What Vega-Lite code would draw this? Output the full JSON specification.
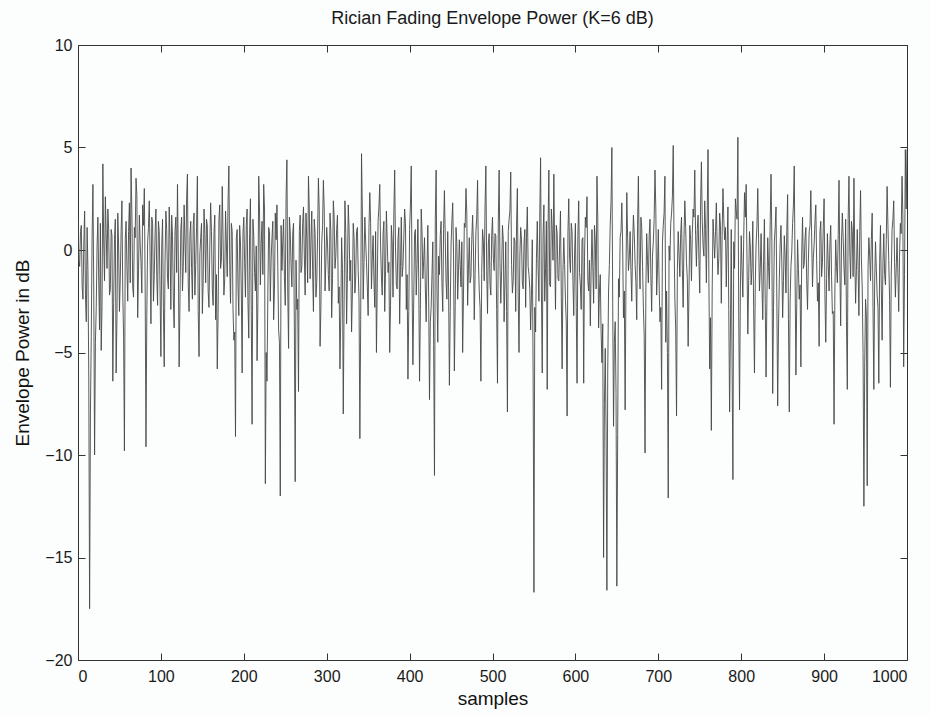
{
"$schema": "https://vega.github.io/schema/vega-lite/v6.json",
"width": 829, "height": 615,
"autosize": {"type": "none"},
"padding": {"left": 78, "top": 45, "right": 24, "bottom": 55},
"background": "#fcfdfd",
"title": {"text": "Rician Fading Envelope Power (K=6 dB)", "font": "Liberation Sans", "fontSize": 18, "fontWeight": "normal", "color": "#1a1a1a", "offset": 9},
"config": {
  "view": {"stroke": "#333333", "strokeWidth": 1},
  "axis": {"grid": false, "domain": false, "tickColor": "#333333", "tickSize": -7, "labelFont": "Liberation Sans", "labelFontSize": 16, "labelColor": "#1a1a1a", "titleFont": "Liberation Sans", "titleFontSize": 19, "titleFontWeight": "normal", "titleColor": "#111111"}
},
"data": {"values": [
{"s":0,"p":1.5},{"s":2,"p":-0.8},{"s":4,"p":1.2},{"s":6,"p":-2.4},{"s":8,"p":1.9},{"s":10,"p":-3.5},{"s":12,"p":-1.0},{"s":14,"p":-17.5},{"s":16,"p":-4.2},{"s":18,"p":3.2},
{"s":20,"p":-10.0},{"s":22,"p":-2.8},{"s":24,"p":1.6},{"s":26,"p":-3.9},{"s":28,"p":-4.9},{"s":30,"p":4.2},{"s":32,"p":-1.5},{"s":34,"p":0.8},{"s":36,"p":2.0},{"s":38,"p":-2.2},
{"s":40,"p":1.0},{"s":42,"p":-6.4},{"s":44,"p":0.5},{"s":46,"p":-6.0},{"s":48,"p":1.8},{"s":50,"p":-3.0},{"s":52,"p":0.9},{"s":54,"p":-2.1},{"s":56,"p":-9.8},{"s":58,"p":1.4},
{"s":60,"p":-2.5},{"s":62,"p":2.3},{"s":64,"p":4.0},{"s":66,"p":-1.8},{"s":68,"p":1.1},{"s":70,"p":3.5},{"s":72,"p":-3.3},{"s":74,"p":1.7},{"s":76,"p":-0.6},{"s":78,"p":2.2},
{"s":80,"p":3.0},{"s":82,"p":-9.6},{"s":84,"p":0.4},{"s":86,"p":2.4},{"s":88,"p":-3.6},{"s":90,"p":1.3},{"s":92,"p":-1.2},{"s":94,"p":2.0},{"s":96,"p":-2.7},{"s":98,"p":0.9},
{"s":100,"p":-5.2},{"s":102,"p":1.5},{"s":104,"p":-5.7},{"s":106,"p":1.9},{"s":108,"p":-1.4},{"s":110,"p":2.1},{"s":112,"p":-2.9},{"s":114,"p":0.7},{"s":116,"p":-3.8},{"s":118,"p":1.6},
{"s":120,"p":3.2},{"s":122,"p":-5.7},{"s":124,"p":1.0},{"s":126,"p":-2.0},{"s":128,"p":2.2},{"s":130,"p":-1.1},{"s":132,"p":3.7},{"s":134,"p":-3.0},{"s":136,"p":1.4},{"s":138,"p":-2.4},
{"s":140,"p":1.8},{"s":142,"p":-0.7},{"s":144,"p":3.6},{"s":146,"p":-5.2},{"s":148,"p":0.6},{"s":150,"p":-3.1},{"s":152,"p":2.0},{"s":154,"p":-1.6},{"s":156,"p":1.2},{"s":158,"p":-2.8},
{"s":160,"p":2.3},{"s":162,"p":-1.9},{"s":164,"p":0.8},{"s":166,"p":-3.4},{"s":168,"p":-5.8},{"s":170,"p":1.5},{"s":172,"p":-0.9},{"s":174,"p":3.1},{"s":176,"p":-2.2},{"s":178,"p":1.9},
{"s":180,"p":-1.3},{"s":182,"p":4.1},{"s":184,"p":-2.6},{"s":186,"p":0.9},{"s":188,"p":-4.4},{"s":190,"p":-9.1},{"s":192,"p":1.0},{"s":194,"p":-3.2},{"s":196,"p":0.4},{"s":198,"p":-6.0},
{"s":200,"p":1.6},{"s":202,"p":-2.3},{"s":204,"p":2.0},{"s":206,"p":-4.3},{"s":208,"p":2.5},{"s":210,"p":-8.5},{"s":212,"p":0.7},{"s":214,"p":-2.0},{"s":216,"p":-5.4},{"s":218,"p":3.6},
{"s":220,"p":-1.7},{"s":222,"p":1.4},{"s":224,"p":3.2},{"s":226,"p":-11.4},{"s":228,"p":-6.4},{"s":230,"p":1.1},{"s":232,"p":-2.5},{"s":234,"p":0.6},{"s":236,"p":-3.4},{"s":238,"p":1.8},
{"s":240,"p":2.2},{"s":242,"p":-3.9},{"s":244,"p":-12.0},{"s":246,"p":-1.0},{"s":248,"p":1.5},{"s":250,"p":-2.7},{"s":252,"p":4.4},{"s":254,"p":-4.8},{"s":256,"p":0.9},{"s":258,"p":-1.8},
{"s":260,"p":1.3},{"s":262,"p":-11.3},{"s":264,"p":-2.9},{"s":266,"p":-6.9},{"s":268,"p":1.7},{"s":270,"p":-0.8},{"s":272,"p":2.1},{"s":274,"p":-2.2},{"s":276,"p":0.5},{"s":278,"p":3.6},
{"s":280,"p":-1.4},{"s":282,"p":1.9},{"s":284,"p":-3.0},{"s":286,"p":0.8},{"s":288,"p":-1.6},{"s":290,"p":3.5},{"s":292,"p":-4.7},{"s":294,"p":0.3},{"s":296,"p":3.4},{"s":298,"p":-2.0},
{"s":300,"p":1.1},{"s":302,"p":-1.2},{"s":304,"p":1.8},{"s":306,"p":-3.3},{"s":308,"p":2.4},{"s":310,"p":-0.9},{"s":312,"p":1.0},{"s":314,"p":-2.6},{"s":316,"p":-5.8},{"s":318,"p":0.6},
{"s":320,"p":-8.0},{"s":322,"p":2.4},{"s":324,"p":-3.6},{"s":326,"p":2.2},{"s":328,"p":-1.5},{"s":330,"p":-4.0},{"s":332,"p":1.3},{"s":334,"p":-2.1},{"s":336,"p":0.9},{"s":338,"p":-1.0},
{"s":340,"p":-9.2},{"s":342,"p":4.7},{"s":344,"p":-2.4},{"s":346,"p":1.6},{"s":348,"p":-0.6},{"s":350,"p":-3.2},{"s":352,"p":2.8},{"s":354,"p":-1.9},{"s":356,"p":0.7},{"s":358,"p":-2.8},
{"s":360,"p":-5.0},{"s":362,"p":1.4},{"s":364,"p":3.2},{"s":366,"p":-1.3},{"s":368,"p":0.8},{"s":370,"p":-3.0},{"s":372,"p":1.9},{"s":374,"p":-1.1},{"s":376,"p":-5.0},{"s":378,"p":1.2},
{"s":380,"p":-2.3},{"s":382,"p":3.9},{"s":384,"p":-1.7},{"s":386,"p":0.5},{"s":388,"p":-3.6},{"s":390,"p":1.6},{"s":392,"p":-0.8},{"s":394,"p":2.0},{"s":396,"p":-2.9},{"s":398,"p":-6.3},
{"s":400,"p":1.0},{"s":402,"p":4.1},{"s":404,"p":-5.6},{"s":406,"p":0.8},{"s":408,"p":-2.2},{"s":410,"p":1.5},{"s":412,"p":-6.4},{"s":414,"p":2.0},{"s":416,"p":-1.4},{"s":418,"p":0.6},
{"s":420,"p":-3.5},{"s":422,"p":1.2},{"s":424,"p":-7.3},{"s":426,"p":-2.8},{"s":428,"p":0.4},{"s":430,"p":-11.0},{"s":432,"p":3.9},{"s":434,"p":-4.5},{"s":436,"p":-1.2},{"s":438,"p":1.4},
{"s":440,"p":-3.0},{"s":442,"p":2.9},{"s":444,"p":-1.6},{"s":446,"p":0.9},{"s":448,"p":-6.6},{"s":450,"p":0.2},{"s":452,"p":2.3},{"s":454,"p":-5.9},{"s":456,"p":1.1},{"s":458,"p":-2.4},
{"s":460,"p":0.5},{"s":462,"p":-1.8},{"s":464,"p":-5.0},{"s":466,"p":1.3},{"s":468,"p":3.0},{"s":470,"p":-2.7},{"s":472,"p":0.6},{"s":474,"p":-1.3},{"s":476,"p":1.7},{"s":478,"p":-3.4},
{"s":480,"p":0.9},{"s":482,"p":3.4},{"s":484,"p":-2.0},{"s":486,"p":-6.4},{"s":488,"p":1.0},{"s":490,"p":-1.5},{"s":492,"p":4.1},{"s":494,"p":-3.1},{"s":496,"p":0.8},{"s":498,"p":-2.2},
{"s":500,"p":1.6},{"s":502,"p":-1.0},{"s":504,"p":0.7},{"s":506,"p":-6.5},{"s":508,"p":3.9},{"s":510,"p":-2.6},{"s":512,"p":1.2},{"s":514,"p":-3.5},{"s":516,"p":0.4},{"s":518,"p":-7.9},
{"s":520,"p":1.5},{"s":522,"p":3.8},{"s":524,"p":-2.1},{"s":526,"p":0.6},{"s":528,"p":-3.0},{"s":530,"p":3.0},{"s":532,"p":-5.0},{"s":534,"p":1.1},{"s":536,"p":-1.6},{"s":538,"p":0.3},
{"s":540,"p":-2.8},{"s":542,"p":2.1},{"s":544,"p":-1.2},{"s":546,"p":-3.9},{"s":548,"p":0.5},{"s":550,"p":-16.7},{"s":552,"p":-4.0},{"s":554,"p":1.4},{"s":556,"p":-2.5},{"s":558,"p":4.5},
{"s":560,"p":-6.0},{"s":562,"p":2.2},{"s":564,"p":-0.9},{"s":566,"p":-6.8},{"s":568,"p":3.9},{"s":570,"p":-1.8},{"s":572,"p":1.0},{"s":574,"p":3.7},{"s":576,"p":-2.9},{"s":578,"p":0.8},
{"s":580,"p":-1.5},{"s":582,"p":1.9},{"s":584,"p":-5.8},{"s":586,"p":0.6},{"s":588,"p":-2.4},{"s":590,"p":-8.1},{"s":592,"p":2.5},{"s":594,"p":-1.1},{"s":596,"p":0.9},{"s":598,"p":-3.2},
{"s":600,"p":1.3},{"s":602,"p":-6.5},{"s":604,"p":2.4},{"s":606,"p":-1.7},{"s":608,"p":0.5},{"s":610,"p":-6.5},{"s":612,"p":1.6},{"s":614,"p":2.6},{"s":616,"p":-2.0},{"s":618,"p":-3.7},
{"s":620,"p":1.0},{"s":622,"p":-2.6},{"s":624,"p":0.4},{"s":626,"p":3.6},{"s":628,"p":-3.8},{"s":630,"p":-1.2},{"s":632,"p":-5.5},{"s":634,"p":-15.0},{"s":636,"p":-4.8},{"s":638,"p":-16.6},
{"s":640,"p":-2.0},{"s":642,"p":1.2},{"s":644,"p":5.0},{"s":646,"p":-8.6},{"s":648,"p":-3.5},{"s":650,"p":-16.4},{"s":652,"p":-1.4},{"s":654,"p":0.6},{"s":656,"p":2.3},{"s":658,"p":-3.3},
{"s":660,"p":-7.8},{"s":662,"p":2.8},{"s":664,"p":-1.0},{"s":666,"p":0.9},{"s":668,"p":-2.5},{"s":670,"p":1.7},{"s":672,"p":-0.7},{"s":674,"p":-3.4},{"s":676,"p":3.6},{"s":678,"p":-1.9},
{"s":680,"p":1.1},{"s":682,"p":-2.8},{"s":684,"p":-9.9},{"s":686,"p":0.8},{"s":688,"p":-1.6},{"s":690,"p":1.5},{"s":692,"p":-3.0},{"s":694,"p":0.4},{"s":696,"p":3.9},{"s":698,"p":-2.2},
{"s":700,"p":1.0},{"s":702,"p":-3.5},{"s":704,"p":-6.8},{"s":706,"p":1.2},{"s":708,"p":3.6},{"s":710,"p":-2.0},{"s":712,"p":-12.1},{"s":714,"p":-0.5},{"s":716,"p":1.8},{"s":718,"p":5.1},
{"s":720,"p":-2.4},{"s":722,"p":-8.1},{"s":724,"p":0.9},{"s":726,"p":-1.3},{"s":728,"p":1.6},{"s":730,"p":-2.8},{"s":732,"p":2.4},{"s":734,"p":-0.6},{"s":736,"p":-4.7},{"s":738,"p":1.2},
{"s":740,"p":-1.5},{"s":742,"p":2.0},{"s":744,"p":3.9},{"s":746,"p":-0.8},{"s":748,"p":1.7},{"s":750,"p":-2.1},{"s":752,"p":4.3},{"s":754,"p":0.2},{"s":756,"p":2.4},{"s":758,"p":-1.6},
{"s":760,"p":4.9},{"s":762,"p":-5.8},{"s":764,"p":-8.8},{"s":766,"p":1.5},{"s":768,"p":-0.4},{"s":770,"p":2.3},{"s":772,"p":-1.2},{"s":774,"p":1.8},{"s":776,"p":-2.6},{"s":778,"p":3.0},
{"s":780,"p":0.5},{"s":782,"p":-1.8},{"s":784,"p":2.1},{"s":786,"p":-7.9},{"s":788,"p":1.0},{"s":790,"p":-11.2},{"s":792,"p":-0.9},{"s":794,"p":1.9},{"s":796,"p":5.5},{"s":798,"p":-7.8},
{"s":800,"p":0.7},{"s":802,"p":-2.3},{"s":804,"p":2.8},{"s":806,"p":3.2},{"s":808,"p":-4.1},{"s":810,"p":0.9},{"s":812,"p":-1.7},{"s":814,"p":1.4},{"s":816,"p":-6.0},{"s":818,"p":0.3},
{"s":820,"p":3.0},{"s":822,"p":-2.0},{"s":824,"p":0.8},{"s":826,"p":-3.4},{"s":828,"p":1.5},{"s":830,"p":-6.2},{"s":832,"p":0.6},{"s":834,"p":-1.9},{"s":836,"p":3.7},{"s":838,"p":-7.0},
{"s":840,"p":0.4},{"s":842,"p":2.1},{"s":844,"p":-7.6},{"s":846,"p":-1.4},{"s":848,"p":1.2},{"s":850,"p":-3.3},{"s":852,"p":0.7},{"s":854,"p":-2.1},{"s":856,"p":2.7},{"s":858,"p":-7.9},
{"s":860,"p":-0.8},{"s":862,"p":1.3},{"s":864,"p":4.1},{"s":866,"p":-6.1},{"s":868,"p":0.5},{"s":870,"p":-2.4},{"s":872,"p":-5.7},{"s":874,"p":1.6},{"s":876,"p":-0.7},{"s":878,"p":1.1},
{"s":880,"p":-2.9},{"s":882,"p":0.9},{"s":884,"p":2.9},{"s":886,"p":-1.8},{"s":888,"p":0.3},{"s":890,"p":2.2},{"s":892,"p":-2.5},{"s":894,"p":-4.7},{"s":896,"p":1.4},{"s":898,"p":-0.6},
{"s":900,"p":2.5},{"s":902,"p":-4.5},{"s":904,"p":0.8},{"s":906,"p":-2.0},{"s":908,"p":1.2},{"s":910,"p":-3.1},{"s":912,"p":-8.5},{"s":914,"p":0.5},{"s":916,"p":-1.6},{"s":918,"p":3.4},
{"s":920,"p":-3.7},{"s":922,"p":1.8},{"s":924,"p":-0.9},{"s":926,"p":1.5},{"s":928,"p":-6.8},{"s":930,"p":3.6},{"s":932,"p":-1.4},{"s":934,"p":0.9},{"s":936,"p":3.5},{"s":938,"p":-2.6},
{"s":940,"p":1.0},{"s":942,"p":-3.2},{"s":944,"p":2.9},{"s":946,"p":-1.9},{"s":948,"p":-12.5},{"s":950,"p":-2.4},{"s":952,"p":-11.5},{"s":954,"p":0.6},{"s":956,"p":-1.5},{"s":958,"p":1.8},
{"s":960,"p":-6.8},{"s":962,"p":0.4},{"s":964,"p":-2.2},{"s":966,"p":-6.5},{"s":968,"p":1.2},{"s":970,"p":-4.4},{"s":972,"p":0.8},{"s":974,"p":-1.7},{"s":976,"p":3.1},{"s":978,"p":-0.5},
{"s":980,"p":-6.7},{"s":982,"p":1.0},{"s":984,"p":2.4},{"s":986,"p":-2.3},{"s":988,"p":0.6},{"s":990,"p":-3.0},{"s":992,"p":1.3},{"s":994,"p":3.6},{"s":996,"p":-5.7},{"s":998,"p":4.9},
{"s":1000,"p":4.9},
{"s":1,"p":-0.5},{"s":3,"p":0.9},{"s":5,"p":-1.8},{"s":7,"p":0.3},{"s":9,"p":-2.2},{"s":11,"p":1.1},{"s":13,"p":-6.2},{"s":15,"p":-8.0},{"s":17,"p":0.6},{"s":19,"p":-2.0},
{"s":21,"p":-4.5},{"s":23,"p":0.2},{"s":25,"p":-1.5},{"s":27,"p":1.3},{"s":29,"p":-2.7},{"s":31,"p":0.4},{"s":33,"p":2.6},{"s":35,"p":-0.9},{"s":37,"p":1.0},{"s":39,"p":-1.9},
{"s":41,"p":0.7},{"s":43,"p":-2.6},{"s":45,"p":1.5},{"s":47,"p":-3.3},{"s":49,"p":0.2},{"s":51,"p":-1.4},{"s":53,"p":2.4},{"s":55,"p":-4.2},{"s":57,"p":0.5},{"s":59,"p":-0.8},
{"s":61,"p":0.9},{"s":63,"p":-1.6},{"s":65,"p":1.8},{"s":67,"p":-2.3},{"s":69,"p":0.6},{"s":71,"p":2.7},{"s":73,"p":-1.0},{"s":75,"p":0.3},{"s":77,"p":-2.1},{"s":79,"p":1.2},
{"s":81,"p":-1.7},{"s":83,"p":-3.2},{"s":85,"p":1.1},{"s":87,"p":-0.4},{"s":89,"p":1.6},{"s":91,"p":-2.5},{"s":93,"p":0.8},{"s":95,"p":-1.3},{"s":97,"p":1.4},{"s":99,"p":-2.0},
{"s":101,"p":0.2},{"s":103,"p":-2.8},{"s":105,"p":-0.6},{"s":107,"p":1.0},{"s":109,"p":-1.9},{"s":111,"p":0.5},{"s":113,"p":1.7},{"s":115,"p":-2.4},{"s":117,"p":0.9},{"s":119,"p":-1.1},
{"s":121,"p":-0.3},{"s":123,"p":-2.5},{"s":125,"p":1.6},{"s":127,"p":-0.8},{"s":129,"p":0.4},{"s":131,"p":2.5},{"s":133,"p":-1.7},{"s":135,"p":0.7},{"s":137,"p":-0.9},{"s":139,"p":1.2},
{"s":141,"p":-2.2},{"s":143,"p":1.1},{"s":145,"p":-3.0},{"s":147,"p":-0.2},{"s":149,"p":1.3},{"s":151,"p":-1.5},{"s":153,"p":0.8},{"s":155,"p":1.5},{"s":157,"p":-2.0},{"s":159,"p":0.1},
{"s":161,"p":0.9},{"s":163,"p":-2.7},{"s":165,"p":1.7},{"s":167,"p":-1.2},{"s":169,"p":-3.1},{"s":171,"p":2.2},{"s":173,"p":-0.5},{"s":175,"p":0.6},{"s":177,"p":-1.4},{"s":179,"p":0.3},
{"s":181,"p":2.4},{"s":183,"p":-0.7},{"s":185,"p":1.3},{"s":187,"p":-2.9},{"s":189,"p":-4.0},{"s":191,"p":0.6},{"s":193,"p":-1.8},{"s":195,"p":1.2},{"s":197,"p":-2.1},{"s":199,"p":0.8},
{"s":201,"p":-0.6},{"s":203,"p":1.2},{"s":205,"p":-2.5},{"s":207,"p":0.8},{"s":209,"p":-3.0},{"s":211,"p":1.5},{"s":213,"p":-1.1},{"s":215,"p":0.2},{"s":217,"p":-2.6},{"s":219,"p":1.9},
{"s":221,"p":0.3},{"s":223,"p":-1.2},{"s":225,"p":2.0},{"s":227,"p":-5.0},{"s":229,"p":-2.2},{"s":231,"p":0.9},{"s":233,"p":-0.4},{"s":235,"p":1.4},{"s":237,"p":-1.9},{"s":239,"p":0.5},
{"s":241,"p":-0.8},{"s":243,"p":-4.5},{"s":245,"p":1.2},{"s":247,"p":0.4},{"s":249,"p":-1.3},{"s":251,"p":2.6},{"s":253,"p":-2.0},{"s":255,"p":1.6},{"s":257,"p":-0.7},{"s":259,"p":0.8},
{"s":261,"p":-3.8},{"s":263,"p":-0.5},{"s":265,"p":-2.4},{"s":267,"p":0.9},{"s":269,"p":-1.1},{"s":271,"p":1.3},{"s":273,"p":-0.2},{"s":275,"p":1.8},{"s":277,"p":-1.6},{"s":279,"p":2.0},
{"s":281,"p":0.4},{"s":283,"p":-1.0},{"s":285,"p":1.5},{"s":287,"p":-2.3},{"s":289,"p":0.7},{"s":291,"p":1.9},{"s":293,"p":-2.8},{"s":295,"p":1.2},{"s":297,"p":2.0},{"s":299,"p":-0.6},
{"s":301,"p":0.3},{"s":303,"p":-2.0},{"s":305,"p":0.9},{"s":307,"p":-1.4},{"s":309,"p":1.6},{"s":311,"p":-0.3},{"s":313,"p":1.7},{"s":315,"p":-1.8},{"s":317,"p":-3.2},{"s":319,"p":-0.9},
{"s":321,"p":-2.6},{"s":323,"p":0.8},{"s":325,"p":-1.2},{"s":327,"p":1.0},{"s":329,"p":-0.5},{"s":331,"p":-2.1},{"s":333,"p":0.6},{"s":335,"p":-1.3},{"s":337,"p":1.1},{"s":339,"p":-2.4},
{"s":341,"p":-3.4},{"s":343,"p":1.9},{"s":345,"p":-0.6},{"s":347,"p":0.4},{"s":349,"p":-1.8},{"s":351,"p":1.1},{"s":353,"p":1.3},{"s":355,"p":-0.4},{"s":357,"p":-1.5},{"s":359,"p":0.9},
{"s":361,"p":-1.6},{"s":363,"p":2.1},{"s":365,"p":0.2},{"s":367,"p":-2.2},{"s":369,"p":1.4},{"s":371,"p":-1.0},{"s":373,"p":0.5},{"s":375,"p":-0.6},{"s":377,"p":-2.7},{"s":379,"p":0.4},
{"s":381,"p":1.8},{"s":383,"p":0.1},{"s":385,"p":-1.9},{"s":387,"p":1.1},{"s":389,"p":-0.8},{"s":391,"p":-1.3},{"s":393,"p":0.6},{"s":395,"p":1.3},{"s":397,"p":-1.2},{"s":399,"p":-3.0},
{"s":401,"p":2.2},{"s":403,"p":-1.8},{"s":405,"p":-2.4},{"s":407,"p":1.0},{"s":409,"p":-0.7},{"s":411,"p":-1.5},{"s":413,"p":-2.9},{"s":415,"p":0.9},{"s":417,"p":-0.5},{"s":419,"p":-1.9},
{"s":421,"p":-0.9},{"s":423,"p":-2.3},{"s":425,"p":-3.5},{"s":427,"p":-1.2},{"s":429,"p":-4.6},{"s":431,"p":1.5},{"s":433,"p":-2.0},{"s":435,"p":-0.3},{"s":437,"p":0.7},{"s":439,"p":-1.6},
{"s":441,"p":1.0},{"s":443,"p":0.6},{"s":445,"p":-2.4},{"s":447,"p":-1.8},{"s":449,"p":-3.0},{"s":451,"p":1.4},{"s":453,"p":-0.2},{"s":455,"p":-2.7},{"s":457,"p":0.3},{"s":459,"p":-1.0},
{"s":461,"p":-0.7},{"s":463,"p":0.4},{"s":465,"p":-2.2},{"s":467,"p":1.1},{"s":469,"p":1.8},{"s":471,"p":-0.9},{"s":473,"p":-1.6},{"s":475,"p":0.5},{"s":477,"p":0.2},{"s":479,"p":-1.2},
{"s":481,"p":1.6},{"s":483,"p":-0.5},{"s":485,"p":-2.8},{"s":487,"p":-1.1},{"s":489,"p":0.4},{"s":491,"p":2.1},{"s":493,"p":-1.0},{"s":495,"p":0.3},{"s":497,"p":-1.7},{"s":499,"p":0.7},
{"s":501,"p":-0.4},{"s":503,"p":0.8},{"s":505,"p":-2.9},{"s":507,"p":1.4},{"s":509,"p":-0.6},{"s":511,"p":-1.0},{"s":513,"p":0.5},{"s":515,"p":-1.6},{"s":517,"p":-3.0},{"s":519,"p":0.9},
{"s":521,"p":1.9},{"s":523,"p":-0.7},{"s":525,"p":-1.5},{"s":527,"p":0.4},{"s":529,"p":1.2},{"s":531,"p":-2.2},{"s":533,"p":-0.3},{"s":535,"p":0.5},{"s":537,"p":-1.9},{"s":539,"p":1.0},
{"s":541,"p":0.6},{"s":543,"p":-0.8},{"s":545,"p":-1.9},{"s":547,"p":-2.2},{"s":549,"p":-6.0},{"s":551,"p":-2.8},{"s":553,"p":-0.4},{"s":555,"p":-0.9},{"s":557,"p":1.6},{"s":559,"p":-2.1},
{"s":561,"p":0.7},{"s":563,"p":-2.5},{"s":565,"p":1.4},{"s":567,"p":1.0},{"s":569,"p":-1.7},{"s":571,"p":2.0},{"s":573,"p":-0.5},{"s":575,"p":-0.1},{"s":577,"p":1.2},{"s":579,"p":-1.4},
{"s":581,"p":0.3},{"s":583,"p":-2.3},{"s":585,"p":-1.0},{"s":587,"p":-0.7},{"s":589,"p":-3.5},{"s":591,"p":0.9},{"s":593,"p":-0.4},{"s":595,"p":1.3},{"s":597,"p":-1.5},{"s":599,"p":-0.2},
{"s":601,"p":-2.8},{"s":603,"p":0.7},{"s":605,"p":-1.1},{"s":607,"p":-2.9},{"s":609,"p":0.6},{"s":611,"p":-0.3},{"s":613,"p":1.1},{"s":615,"p":-1.5},{"s":617,"p":-0.5},{"s":619,"p":-1.0},
{"s":621,"p":-0.8},{"s":623,"p":1.2},{"s":625,"p":-1.9},{"s":627,"p":1.5},{"s":629,"p":-2.0},{"s":631,"p":-4.0},{"s":633,"p":-3.6},{"s":635,"p":-7.5},{"s":637,"p":-8.8},{"s":639,"p":-6.0},
{"s":641,"p":-0.7},{"s":643,"p":2.4},{"s":645,"p":-2.6},{"s":647,"p":-4.5},{"s":649,"p":-7.0},{"s":651,"p":-9.0},{"s":653,"p":-2.3},{"s":655,"p":0.9},{"s":657,"p":0.2},{"s":659,"p":-2.0},
{"s":661,"p":-1.4},{"s":663,"p":0.6},{"s":665,"p":-0.4},{"s":667,"p":-1.0},{"s":669,"p":0.3},{"s":671,"p":0.8},{"s":673,"p":-1.6},{"s":675,"p":1.2},{"s":677,"p":-0.5},{"s":679,"p":1.6},
{"s":681,"p":-0.8},{"s":683,"p":-4.2},{"s":685,"p":-2.0},{"s":687,"p":-0.5},{"s":689,"p":0.7},{"s":691,"p":-1.2},{"s":693,"p":-0.3},{"s":695,"p":1.5},{"s":697,"p":2.0},{"s":699,"p":-0.9},
{"s":701,"p":-1.7},{"s":703,"p":-2.8},{"s":705,"p":0.4},{"s":707,"p":1.8},{"s":709,"p":-4.5},{"s":711,"p":-5.0},{"s":713,"p":0.2},{"s":715,"p":1.3},{"s":717,"p":2.6},{"s":719,"p":0.4},
{"s":721,"p":-3.9},{"s":723,"p":-1.0},{"s":725,"p":-0.2},{"s":727,"p":0.8},{"s":729,"p":-0.9},{"s":731,"p":0.6},{"s":733,"p":1.1},{"s":735,"p":-1.4},{"s":737,"p":-2.0},{"s":739,"p":0.5},
{"s":741,"p":0.8},{"s":743,"p":1.6},{"s":745,"p":0.7},{"s":747,"p":1.0},{"s":749,"p":-0.5},{"s":751,"p":2.2},{"s":753,"p":1.4},{"s":755,"p":-0.3},{"s":757,"p":1.0},{"s":759,"p":1.8},
{"s":761,"p":-1.4},{"s":763,"p":-3.3},{"s":765,"p":-2.0},{"s":767,"p":0.6},{"s":769,"p":0.9},{"s":771,"p":0.1},{"s":773,"p":-0.4},{"s":775,"p":1.2},{"s":777,"p":0.7},{"s":779,"p":1.5},
{"s":781,"p":1.1},{"s":783,"p":0.3},{"s":785,"p":-2.9},{"s":787,"p":-4.0},{"s":789,"p":-5.6},{"s":791,"p":0.4},{"s":793,"p":2.5},{"s":795,"p":1.5},{"s":797,"p":-3.2},{"s":799,"p":-2.0},
{"s":801,"p":-0.9},{"s":803,"p":0.5},{"s":805,"p":1.6},{"s":807,"p":-0.6},{"s":809,"p":-1.5},{"s":811,"p":0.2},{"s":813,"p":-0.9},{"s":815,"p":-2.8},{"s":817,"p":-1.6},{"s":819,"p":1.2},
{"s":821,"p":0.5},{"s":823,"p":-0.9},{"s":825,"p":-1.7},{"s":827,"p":-0.5},{"s":829,"p":-2.6},{"s":831,"p":-2.4},{"s":833,"p":-0.8},{"s":835,"p":1.4},{"s":837,"p":0.4},{"s":839,"p":-2.8},
{"s":841,"p":1.1},{"s":843,"p":-2.5},{"s":845,"p":-3.8},{"s":847,"p":0.3},{"s":849,"p":-0.6},{"s":851,"p":-1.5},{"s":853,"p":-0.3},{"s":855,"p":0.9},{"s":857,"p":-3.4},{"s":859,"p":-2.5},
{"s":861,"p":-0.1},{"s":863,"p":2.2},{"s":865,"p":-1.2},{"s":867,"p":-2.6},{"s":869,"p":-0.9},{"s":871,"p":-1.7},{"s":873,"p":-0.2},{"s":875,"p":-0.9},{"s":877,"p":0.6},{"s":879,"p":-1.5},
{"s":881,"p":-0.6},{"s":883,"p":1.2},{"s":885,"p":0.6},{"s":887,"p":-0.4},{"s":889,"p":1.4},{"s":891,"p":-0.5},{"s":893,"p":-1.6},{"s":895,"p":0.9},{"s":897,"p":-1.3},{"s":899,"p":1.1},
{"s":901,"p":-2.2},{"s":903,"p":-1.4},{"s":905,"p":-0.7},{"s":907,"p":0.3},{"s":909,"p":-1.3},{"s":911,"p":-3.0},{"s":913,"p":-2.0},{"s":915,"p":-0.8},{"s":917,"p":0.7},{"s":919,"p":-0.9},
{"s":921,"p":0.4},{"s":923,"p":0.6},{"s":925,"p":-1.7},{"s":927,"p":-3.5},{"s":929,"p":1.5},{"s":931,"p":-0.1},{"s":933,"p":1.4},{"s":935,"p":-1.3},{"s":937,"p":-0.4},{"s":939,"p":-1.0},
{"s":941,"p":-0.8},{"s":943,"p":0.9},{"s":945,"p":-0.4},{"s":947,"p":-5.0},{"s":949,"p":-5.5},{"s":951,"p":-3.2},{"s":953,"p":-0.9},{"s":955,"p":-0.3},{"s":957,"p":0.5},{"s":959,"p":-2.8},
{"s":961,"p":-1.6},{"s":963,"p":-0.9},{"s":965,"p":-2.8},{"s":967,"p":-0.6},{"s":969,"p":-1.9},{"s":971,"p":-0.6},{"s":973,"p":-1.2},{"s":975,"p":0.5},{"s":977,"p":1.2},{"s":979,"p":-2.4},
{"s":981,"p":-1.3},{"s":983,"p":1.5},{"s":985,"p":-0.6},{"s":987,"p":-0.9},{"s":989,"p":-1.1},{"s":991,"p":-0.3},{"s":993,"p":0.8},{"s":995,"p":1.7},{"s":997,"p":-1.2},{"s":999,"p":2.0}
]},
"layer": [
  {"mark": {"type": "line", "color": "#474747", "strokeWidth": 0.9, "clip": true},
   "encoding": {
     "x": {"field": "s", "type": "quantitative", "sort": "ascending", "scale": {"domain": [0, 1000], "nice": false, "zero": false},
           "axis": {"values": [0,100,200,300,400,500,600,700,800,900,1000], "format": "d", "title": "samples", "labelPadding": 15, "titlePadding": 5}},
     "y": {"field": "p", "type": "quantitative", "scale": {"domain": [-20, 10], "nice": false, "zero": false},
           "axis": {"values": [-20,-15,-10,-5,0,5,10], "title": "Envelope Power in dB", "labelPadding": 13, "titlePadding": 12}}
   }},
  {"mark": {"type": "line", "opacity": 0},
   "encoding": {
     "x": {"field": "s", "type": "quantitative", "scale": {"domain": [0, 1000], "nice": false, "zero": false},
           "axis": {"orient": "top", "values": [0,100,200,300,400,500,600,700,800,900,1000], "labels": false, "title": null}},
     "y": {"field": "p", "type": "quantitative", "scale": {"domain": [-20, 10], "nice": false, "zero": false},
           "axis": {"orient": "right", "values": [-20,-15,-10,-5,0,5,10], "labels": false, "title": null}}
   }}
],
"resolve": {"axis": {"x": "independent", "y": "independent"}}
}
